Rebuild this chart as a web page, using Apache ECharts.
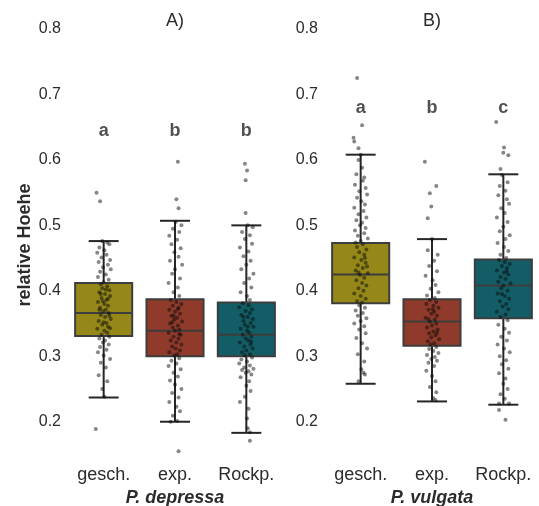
<!DOCTYPE html>
<html>
<head>
<meta charset="utf-8">
<script src="https://cdn.jsdelivr.net/npm/echarts@6/dist/echarts.min.js"></script>
<style>
html,body{margin:0;padding:0;background:#fff;}
#chart{width:539px;height:506px;}
</style>
</head>
<body>
<div id="chart"></div>
<script>
// ---------- data ----------
const categories = ['gesch.', 'exp.', 'Rockp.'];
const panelTitles = ['A)', 'B)'];
const speciesNames = ['P. depressa', 'P. vulgata'];
const yAxisName = 'relative Hoehe';
const yTicks = [0.2, 0.3, 0.4, 0.5, 0.6, 0.7, 0.8];
const lettersA = ['a', 'b', 'b'];
const lettersB = ['a', 'b', 'c'];
const letterLevelA = 0.644;
const letterLevelB = 0.679;

// [lower whisker, Q1, median, Q3, upper whisker]
const statsA = [
  [0.237, 0.331, 0.366, 0.412, 0.476],
  [0.200, 0.300, 0.339, 0.387, 0.507],
  [0.183, 0.300, 0.333, 0.382, 0.500]
];
const statsB = [
  [0.258, 0.381, 0.425, 0.473, 0.608],
  [0.231, 0.316, 0.353, 0.387, 0.479],
  [0.226, 0.358, 0.408, 0.448, 0.578]
];

// jittered observations: [jitter offset (category units), value]
const pointsA_gesch = [
  [-0.02,0.476],[0.05,0.474],[0.08,0.471],[-0.06,0.466],[0.01,0.462],[-0.09,0.458],[0.04,0.455],[-0.03,0.451],[0.09,0.447],[-0.07,0.444],[0.06,0.440],[-0.01,0.436],[0.10,0.433],[-0.05,0.429],[0.03,0.425],[-0.08,0.421],[0.07,0.417],[0.00,0.413],
  [-0.04,0.410],[0.05,0.407],[-0.02,0.404],[0.08,0.401],[-0.06,0.398],[0.02,0.395],[0.09,0.392],[-0.03,0.389],[0.04,0.386],[-0.08,0.383],[0.01,0.380],[0.06,0.377],[-0.05,0.374],[0.03,0.371],[-0.01,0.369],[0.07,0.366],[-0.04,0.363],[0.02,0.360],[0.10,0.357],[-0.07,0.354],[0.04,0.351],[-0.02,0.348],[0.06,0.345],[-0.09,0.342],[0.01,0.339],[0.05,0.336],[-0.03,0.333],
  [0.03,0.402],[-0.01,0.384],[0.08,0.362],[-0.06,0.371],[0.00,0.352],[0.09,0.343],[-0.04,0.395],[0.06,0.388],
  [0.08,0.330],[-0.06,0.327],[0.02,0.324],[-0.01,0.321],[0.07,0.318],[-0.05,0.314],[0.04,0.310],[-0.08,0.306],[0.00,0.301],[0.09,0.296],[-0.04,0.290],[0.03,0.283],[-0.07,0.271],[0.05,0.262],[-0.02,0.250],[0.01,0.238],
  [-0.10,0.550],[-0.05,0.537],[-0.11,0.189]
];
const pointsA_exp = [
  [0.01,0.505],[0.09,0.500],[-0.03,0.495],[0.06,0.490],[-0.08,0.484],[0.03,0.478],[-0.05,0.471],[0.08,0.465],[-0.01,0.459],[0.05,0.452],[-0.07,0.446],[0.10,0.440],[0.00,0.433],[-0.04,0.426],[0.07,0.419],[-0.09,0.412],[0.04,0.405],[-0.02,0.398],[0.06,0.392],
  [-0.06,0.386],[0.02,0.383],[0.09,0.380],[-0.03,0.377],[0.05,0.374],[-0.08,0.371],[0.00,0.368],[0.07,0.365],[-0.05,0.362],[0.03,0.359],[-0.01,0.356],[0.10,0.353],[-0.07,0.350],[0.04,0.347],[-0.03,0.344],[0.06,0.341],[0.00,0.339],[-0.09,0.336],[0.08,0.333],[-0.02,0.330],[0.05,0.327],[-0.06,0.324],[0.02,0.321],[0.09,0.318],[-0.04,0.315],[0.01,0.312],[0.07,0.309],[-0.08,0.306],[0.03,0.303],[-0.01,0.301],[0.04,0.372],[-0.04,0.352],[0.06,0.334],[-0.02,0.362],
  [0.06,0.297],[-0.05,0.293],[0.02,0.289],[-0.09,0.285],[0.08,0.280],[-0.02,0.275],[0.04,0.269],[-0.07,0.263],[0.00,0.257],[0.09,0.250],[-0.04,0.244],[0.05,0.237],[-0.08,0.230],[0.02,0.223],[0.07,0.216],[-0.03,0.209],[0.03,0.201],[-0.06,0.200],
  [0.04,0.597],[0.02,0.540],[0.05,0.526],[0.05,0.155]
];
const pointsA_rock = [
  [0.02,0.500],[0.09,0.497],[-0.06,0.490],[0.05,0.485],[-0.02,0.479],[0.08,0.472],[-0.09,0.466],[0.03,0.460],[-0.04,0.453],[0.06,0.446],[0.00,0.440],[-0.07,0.433],[0.10,0.426],[0.04,0.419],[-0.03,0.412],[0.07,0.405],[-0.08,0.398],[0.01,0.392],[0.05,0.386],
  [-0.05,0.381],[0.03,0.378],[-0.10,0.375],[0.08,0.372],[-0.01,0.369],[0.05,0.366],[-0.07,0.363],[0.02,0.360],[0.09,0.357],[-0.04,0.354],[0.06,0.351],[-0.02,0.348],[0.10,0.345],[-0.08,0.342],[0.01,0.339],[0.04,0.336],[-0.05,0.333],[0.07,0.330],[-0.01,0.327],[0.03,0.324],[-0.09,0.321],[0.06,0.318],[-0.03,0.315],[0.09,0.312],[0.00,0.309],[-0.06,0.306],[0.05,0.303],[-0.02,0.301],[0.02,0.345],[-0.04,0.360],[0.07,0.322],
  [0.08,0.298],[-0.07,0.295],[0.01,0.292],[-0.10,0.289],[0.05,0.286],[-0.03,0.283],[0.10,0.281],[-0.06,0.279],[0.03,0.277],[-0.01,0.275],[0.07,0.272],[-0.08,0.268],[0.04,0.262],[0.00,0.255],[0.06,0.247],[-0.02,0.238],[-0.09,0.230],[0.03,0.220],[0.01,0.205],[0.02,0.190],[0.05,0.184],
  [-0.02,0.594],[0.01,0.584],[-0.01,0.569],[-0.01,0.519],[0.05,0.171]
];
const pointsB_gesch = [
  [0.00,0.608],[-0.03,0.600],[0.02,0.588],[-0.06,0.578],[0.05,0.573],[0.03,0.568],[-0.08,0.562],[0.07,0.557],[-0.02,0.552],[0.09,0.547],[-0.05,0.542],[0.01,0.537],[0.06,0.532],[-0.09,0.527],[0.04,0.522],[-0.03,0.517],[0.08,0.512],[-0.06,0.508],[0.02,0.504],[-0.01,0.500],[0.07,0.496],[-0.08,0.492],[0.05,0.488],[-0.04,0.484],[0.10,0.480],[0.00,0.476],[-0.07,0.474],
  [0.03,0.471],[-0.05,0.467],[0.08,0.463],[-0.02,0.459],[0.05,0.455],[-0.09,0.451],[0.01,0.447],[0.07,0.443],[-0.04,0.439],[0.03,0.435],[-0.07,0.431],[0.10,0.427],[-0.01,0.424],[0.05,0.420],[-0.06,0.416],[0.02,0.412],[0.08,0.408],[-0.03,0.404],[0.04,0.400],[-0.09,0.396],[0.00,0.392],[0.07,0.388],[-0.05,0.384],[0.02,0.382],[0.06,0.450],[-0.03,0.428],[0.09,0.437],
  [-0.02,0.378],[0.06,0.374],[-0.07,0.370],[0.03,0.366],[-0.04,0.362],[0.08,0.358],[0.00,0.354],[-0.09,0.350],[0.05,0.346],[-0.02,0.341],[0.07,0.335],[-0.06,0.328],[0.02,0.320],[0.09,0.312],[-0.04,0.303],[0.05,0.292],[0.01,0.280],[0.06,0.272],[0.04,0.275],[-0.03,0.262],
  [-0.05,0.725],[0.02,0.653],[-0.10,0.634],[-0.09,0.628],[-0.03,0.618]
];
const pointsB_exp = [
  [0.00,0.479],[-0.06,0.462],[0.08,0.455],[0.03,0.446],[-0.04,0.438],[0.07,0.430],[-0.09,0.423],[0.01,0.416],[0.05,0.409],[-0.02,0.403],[0.09,0.398],[-0.07,0.393],[0.04,0.389],
  [-0.03,0.386],[0.06,0.383],[-0.08,0.380],[0.02,0.377],[0.09,0.374],[-0.05,0.371],[0.03,0.368],[-0.01,0.365],[0.07,0.362],[-0.09,0.359],[0.04,0.356],[-0.03,0.353],[0.06,0.350],[0.00,0.347],[-0.07,0.344],[0.08,0.341],[0.02,0.338],[-0.04,0.335],[0.05,0.332],[-0.01,0.329],[0.10,0.326],[-0.06,0.323],[0.03,0.320],[-0.02,0.318],[0.01,0.372],[-0.05,0.357],[0.07,0.336],
  [0.06,0.314],[-0.04,0.311],[0.02,0.308],[0.09,0.305],[-0.07,0.302],[0.04,0.299],[-0.01,0.296],[0.07,0.293],[-0.05,0.290],[0.03,0.285],[-0.08,0.278],[0.00,0.270],[0.05,0.262],[-0.03,0.253],[0.06,0.245],[0.02,0.236],[0.05,0.233],
  [-0.10,0.597],[0.06,0.560],[-0.03,0.549],[-0.01,0.529],[-0.06,0.511]
];
const pointsB_rock = [
  [-0.02,0.577],[0.06,0.566],[-0.05,0.560],[0.03,0.553],[-0.07,0.546],[0.05,0.540],[0.08,0.533],[-0.03,0.526],[0.02,0.519],[-0.09,0.512],[0.06,0.505],[0.00,0.498],[-0.05,0.491],[0.09,0.485],[0.03,0.479],[-0.08,0.473],[0.01,0.467],[0.07,0.461],[-0.04,0.455],[0.04,0.450],
  [-0.06,0.447],[0.02,0.444],[0.09,0.441],[-0.02,0.438],[0.05,0.435],[-0.09,0.431],[0.01,0.428],[0.07,0.425],[-0.04,0.421],[0.03,0.418],[-0.07,0.414],[0.10,0.411],[0.00,0.408],[-0.03,0.404],[0.06,0.400],[-0.08,0.396],[0.02,0.392],[0.08,0.388],[-0.05,0.384],[0.04,0.380],[-0.01,0.376],[0.07,0.372],[-0.09,0.368],[0.03,0.364],[-0.04,0.360],[0.05,0.430],[-0.02,0.395],
  [0.06,0.355],[-0.07,0.348],[0.02,0.342],[0.08,0.336],[-0.03,0.330],[0.05,0.324],[-0.08,0.318],[0.01,0.312],[0.09,0.306],[-0.05,0.300],[0.04,0.294],[-0.02,0.288],[0.07,0.281],[-0.06,0.274],[0.03,0.266],[0.00,0.258],[0.06,0.250],[-0.04,0.242],[0.02,0.235],[-0.06,0.228],[0.08,0.228],
  [-0.10,0.658],[0.01,0.619],[0.00,0.611],[0.07,0.607],[-0.04,0.586],[-0.06,0.218],[0.03,0.203]
];

const pointsA = [pointsA_gesch, pointsA_exp, pointsA_rock];
const pointsB = [pointsB_gesch, pointsB_exp, pointsB_rock];

// ---------- chart ----------
const FONT = 'Liberation Sans, Arial, sans-serif';
const boxColors = ['#958818', '#8f3a2a', '#125d66'];
const Y_MIN = 0.14, Y_MAX = 0.8;

function renderBox(params, api) {
  const i = api.value(0);
  const c = v => api.coord([i, v]);
  const pLo = c(api.value(1)), pQ1 = c(api.value(2)), pMed = c(api.value(3)),
        pQ3 = c(api.value(4)), pHi = c(api.value(5));
  const x = pLo[0];
  const halfBox = api.size([0.4, 0])[0];
  const halfCap = api.size([0.21, 0])[0];
  const wStyle = { stroke: '#262626', lineWidth: 2 };
  return {
    type: 'group',
    children: [
      { type: 'line', shape: { x1: x, y1: pHi[1], x2: x, y2: pLo[1] }, style: wStyle },
      { type: 'line', shape: { x1: x - halfCap, y1: pHi[1], x2: x + halfCap, y2: pHi[1] }, style: wStyle },
      { type: 'line', shape: { x1: x - halfCap, y1: pLo[1], x2: x + halfCap, y2: pLo[1] }, style: wStyle },
      { type: 'rect', shape: { x: x - halfBox, y: pQ3[1], width: 2 * halfBox, height: pQ1[1] - pQ3[1] },
        style: { fill: boxColors[params.dataIndex], stroke: '#3d3d3d', lineWidth: 2 } },
      { type: 'line', shape: { x1: x - halfBox, y1: pMed[1], x2: x + halfBox, y2: pMed[1] },
        style: { stroke: '#3d3d3d', lineWidth: 2 } }
    ]
  };
}

const grids = [
  { left: 68, width: 214, top: 29, height: 432, containLabel: false, outerBoundsMode: 'none' },
  { left: 325, width: 214, top: 29, height: 432, containLabel: false, outerBoundsMode: 'none' }
];

const xAxes = [], yAxes = [], series = [];
[statsA, statsB].forEach((stats, g) => {
  xAxes.push({
    gridIndex: g, type: 'category', data: categories, position: 'bottom',
    axisLine: { show: false }, axisTick: { show: false },
    axisLabel: { interval: 0, hideOverlap: false, fontSize: 18, color: '#2b2b2b', margin: 5, fontFamily: FONT },
    name: speciesNames[g], nameLocation: 'middle', nameGap: 27,
    nameTextStyle: { fontSize: 18, fontWeight: 'bold', fontStyle: 'italic', color: '#2b2b2b', fontFamily: FONT }
  });
  xAxes.push({ gridIndex: g, type: 'value', min: -0.5, max: 2.5, show: false });
  yAxes.push({
    gridIndex: g, type: 'value', min: Y_MIN, max: Y_MAX,
    splitLine: { show: false }, axisLine: { show: false }, axisTick: { show: false },
    axisLabel: { customValues: yTicks, fontSize: 16, color: '#2b2b2b', margin: 7, fontFamily: FONT,
                 formatter: v => Number(v).toFixed(1) },
    name: g === 0 ? yAxisName : '', nameLocation: 'middle', nameGap: 34,
    nameTextStyle: { fontSize: 18, fontWeight: 'bold', color: '#2b2b2b', fontFamily: FONT }
  });
  const xi = g * 2 + 1;
  series.push({
    type: 'custom', xAxisIndex: xi, yAxisIndex: g, renderItem: renderBox,
    data: stats.map((s, i) => [i].concat(s)), z: 2
  });
  const pts = g === 0 ? pointsA : pointsB;
  series.push({
    type: 'scatter', xAxisIndex: xi, yAxisIndex: g, symbolSize: 4, z: 3,
    itemStyle: { color: 'rgba(10,10,10,0.62)' },
    data: pts.flatMap((arr, i) => arr.map(p => [i + p[0], p[1]]))
  });
  const letters = g === 0 ? lettersA : lettersB;
  const lvl = g === 0 ? letterLevelA : letterLevelB;
  series.push({
    type: 'scatter', xAxisIndex: xi, yAxisIndex: g, symbolSize: 1, z: 4,
    itemStyle: { color: 'rgba(0,0,0,0)' },
    label: { show: true, position: 'inside', formatter: p => letters[p.dataIndex],
             fontSize: 18, fontWeight: 'bold', color: '#262626', fontFamily: FONT },
    data: letters.map((l, i) => [i, lvl])
  });
});

const chart = echarts.init(document.getElementById('chart'), null, { renderer: 'canvas' });
chart.setOption({
  animation: false,
  backgroundColor: '#fff',
  grid: grids,
  xAxis: xAxes,
  yAxis: yAxes,
  graphic: panelTitles.map((t, g) => ({
    type: 'text', x: grids[g].left + grids[g].width / 2, y: 21,
    style: { text: t, fontSize: 18, fontFamily: FONT, fill: '#2b2b2b', textAlign: 'center', textVerticalAlign: 'middle' }
  })),
  series: series
});
</script>
</body>
</html>
